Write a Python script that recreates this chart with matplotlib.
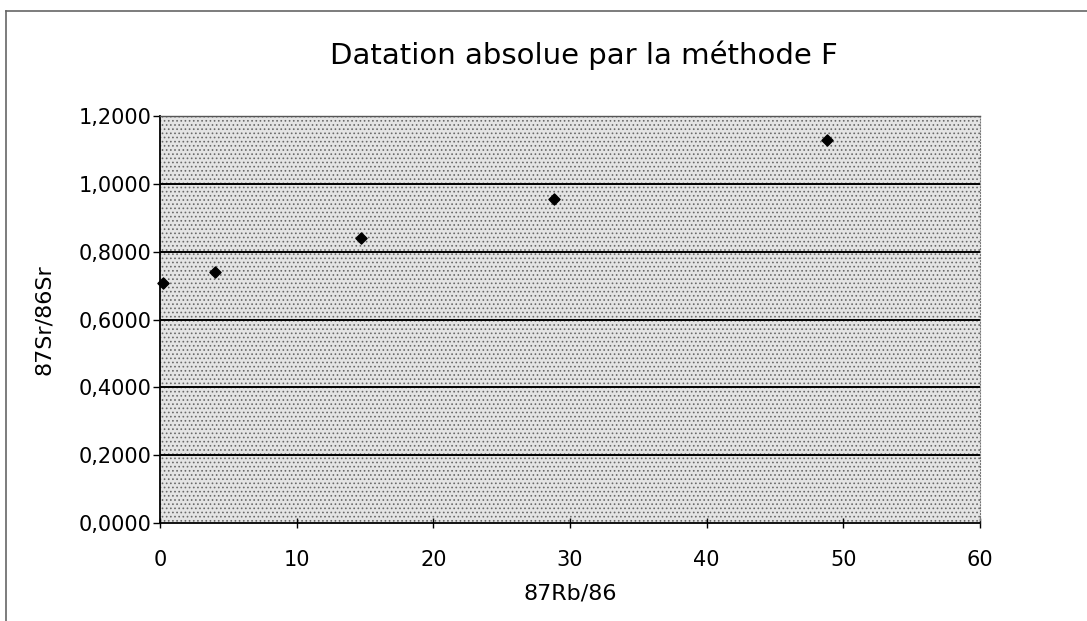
import matplotlib.pyplot as plt
import matplotlib.patches as mpatches
from matplotlib.ticker import FuncFormatter

# Rb-Sr isochron points
rb_sr = [0.2, 4.0, 14.7, 28.8, 48.8]
sr_sr = [0.708, 0.740, 0.841, 0.956, 1.130]

x_ticks = [0, 10, 20, 30, 40, 50, 60]
y_ticks = [0.0, 0.2, 0.4, 0.6, 0.8, 1.0, 1.2]

plt.rcParams['hatch.linewidth'] = 0.7

fig = plt.figure(figsize=(10.87, 6.21), dpi=100)
ax = fig.add_axes([160 / 1087, 98 / 621, 820 / 1087, 407 / 621])

# outer chart frame (only left and top edges show on the scan)
fig.add_artist(plt.Line2D([6 / 1087, 6 / 1087], [0, 1 - 11 / 621],
                          transform=fig.transFigure, color='#666666', lw=1.2))
fig.add_artist(plt.Line2D([6 / 1087, 1], [1 - 11 / 621, 1 - 11 / 621],
                          transform=fig.transFigure, color='#666666', lw=1.2))

# stippled plot area
ax.set_facecolor('#e4e4e4')
ax.add_patch(mpatches.Rectangle((0, 0), 1, 1, transform=ax.transAxes,
                                facecolor='none', edgecolor='#6a6a6a',
                                hatch='....', lw=0, zorder=0))

for y in y_ticks[1:-1]:
    ax.axhline(y, color='black', lw=1.4, zorder=1)

ax.scatter(rb_sr, sr_sr, marker='D', s=32, color='black', zorder=3,
           clip_on=False)

ax.set_xlim(0, 60)
ax.set_ylim(0, 1.2)
ax.set_xticks(x_ticks)
ax.set_yticks(y_ticks)
ax.yaxis.set_major_formatter(FuncFormatter(lambda v, p: f'{v:.4f}'.replace('.', ',')))

ax.spines['left'].set_linewidth(1.3)
ax.spines['bottom'].set_linewidth(1.3)
ax.spines['top'].set_color('#555555')
ax.spines['top'].set_linewidth(1.0)
ax.spines['right'].set_color('#777777')
ax.spines['right'].set_linestyle(':')

ax.tick_params(axis='y', direction='out', length=5, width=1, labelsize=15,
               pad=1)
ax.tick_params(axis='x', direction='inout', length=7, width=1, labelsize=15,
               pad=16)

ax.set_xlabel('87Rb/86', fontsize=16, labelpad=10)
ax.set_ylabel('87Sr/86Sr', fontsize=16, labelpad=18)
fig.text(0.537, 1 - 55 / 621, 'Datation absolue par la méthode F',
         ha='center', va='center', fontsize=21)

fig.savefig('out.png', dpi=100)
